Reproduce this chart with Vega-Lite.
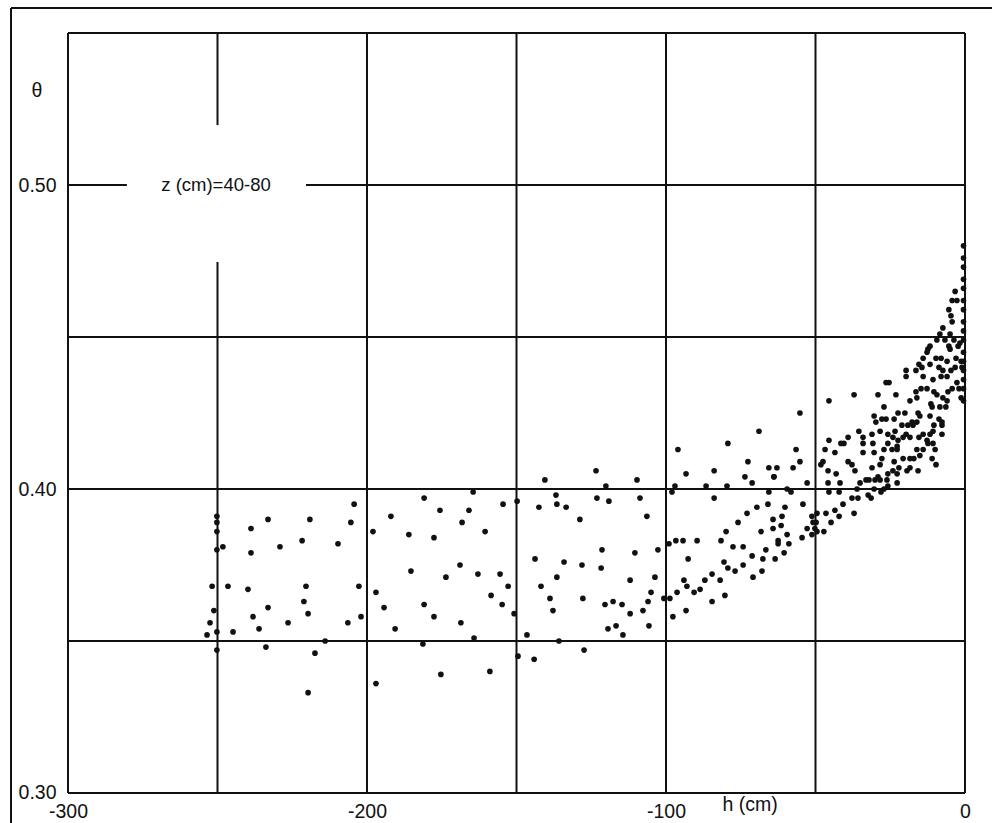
{
  "$schema": "https://vega.github.io/schema/vega-lite/v6.json",
  "width": 992,
  "height": 823,
  "autosize": "none",
  "padding": 0,
  "background": "white",
  "config": {
    "view": {"stroke": null},
    "font": "Liberation Sans",
    "axis": {"domain": false, "ticks": false, "grid": false, "labelColor": "#111", "labelFont": "Liberation Sans", "labelFontSize": 19.5}
  },
  "datasets": {
    "frame": [
      {"h1": -319.06, "h2": -319.06, "t1": 0.29013, "t2": 0.55822},
      {"h1": -319.06, "h2": 9.03, "t1": 0.55822, "t2": 0.55822}
    ],
    "grid": [
      {"h1": -300, "h2": -300, "t1": 0.30, "t2": 0.55},
      {"h1": -250, "h2": -250, "t1": 0.30, "t2": 0.4747},
      {"h1": -250, "h2": -250, "t1": 0.5197, "t2": 0.55},
      {"h1": -200, "h2": -200, "t1": 0.30, "t2": 0.55},
      {"h1": -150, "h2": -150, "t1": 0.30, "t2": 0.55},
      {"h1": -100, "h2": -100, "t1": 0.30, "t2": 0.55},
      {"h1": -50, "h2": -50, "t1": 0.30, "t2": 0.55},
      {"h1": 0, "h2": 0, "t1": 0.30, "t2": 0.55},
      {"h1": -300, "h2": 0, "t1": 0.30, "t2": 0.30},
      {"h1": -300, "h2": 0, "t1": 0.35, "t2": 0.35},
      {"h1": -300, "h2": 0, "t1": 0.40, "t2": 0.40},
      {"h1": -300, "h2": 0, "t1": 0.45, "t2": 0.45},
      {"h1": -300, "h2": -280.3, "t1": 0.50, "t2": 0.50},
      {"h1": -220.4, "h2": 0, "t1": 0.50, "t2": 0.50},
      {"h1": -300, "h2": 0, "t1": 0.55, "t2": 0.55}
    ],
    "labels": [
      {"h": -250.5, "theta": 0.5, "text": "z (cm)=40-80", "kind": "note"},
      {"h": -310.4, "theta": 0.5309, "text": "θ", "kind": "axis"},
      {"h": -71.9, "theta": 0.2960, "text": "h (cm)", "kind": "axis"}
    ],
    "obs": [
      {"h": -250.2, "theta": 0.391}, {"h": -250.2, "theta": 0.389}, {"h": -250.2, "theta": 0.386}, {"h": -250.2, "theta": 0.380},
      {"h": -248.2, "theta": 0.381}, {"h": -238.8, "theta": 0.387}, {"h": -233.1, "theta": 0.390}, {"h": -238.8, "theta": 0.379},
      {"h": -229.1, "theta": 0.381}, {"h": -219.1, "theta": 0.390}, {"h": -221.7, "theta": 0.383}, {"h": -209.7, "theta": 0.382},
      {"h": -204.3, "theta": 0.395}, {"h": -205.4, "theta": 0.389}, {"h": -251.8, "theta": 0.368}, {"h": -246.5, "theta": 0.368},
      {"h": -239.8, "theta": 0.367}, {"h": -220.4, "theta": 0.368}, {"h": -221.1, "theta": 0.363}, {"h": -202.7, "theta": 0.368},
      {"h": -251.2, "theta": 0.360}, {"h": -233.1, "theta": 0.361}, {"h": -219.7, "theta": 0.359}, {"h": -238.1, "theta": 0.358},
      {"h": -202.0, "theta": 0.358}, {"h": -252.5, "theta": 0.356}, {"h": -226.4, "theta": 0.356}, {"h": -206.4, "theta": 0.356},
      {"h": -253.5, "theta": 0.352}, {"h": -250.2, "theta": 0.353}, {"h": -244.8, "theta": 0.353}, {"h": -236.1, "theta": 0.354},
      {"h": -214.0, "theta": 0.350}, {"h": -250.2, "theta": 0.347}, {"h": -233.8, "theta": 0.348}, {"h": -217.4, "theta": 0.346},
      {"h": -219.7, "theta": 0.333}, {"h": -180.9, "theta": 0.397}, {"h": -164.5, "theta": 0.399}, {"h": -175.6, "theta": 0.393},
      {"h": -165.9, "theta": 0.393}, {"h": -192.0, "theta": 0.391}, {"h": -168.2, "theta": 0.389}, {"h": -160.5, "theta": 0.386},
      {"h": -198.0, "theta": 0.386}, {"h": -186.0, "theta": 0.385}, {"h": -177.6, "theta": 0.384}, {"h": -168.9, "theta": 0.375},
      {"h": -162.9, "theta": 0.372}, {"h": -185.3, "theta": 0.373}, {"h": -173.6, "theta": 0.371}, {"h": -197.0, "theta": 0.366},
      {"h": -180.9, "theta": 0.362}, {"h": -194.3, "theta": 0.361}, {"h": -177.6, "theta": 0.358}, {"h": -168.6, "theta": 0.356},
      {"h": -190.6, "theta": 0.354}, {"h": -164.2, "theta": 0.351}, {"h": -181.3, "theta": 0.349}, {"h": -175.3, "theta": 0.339},
      {"h": -158.9, "theta": 0.340}, {"h": -197.0, "theta": 0.336}, {"h": -158.5, "theta": 0.365},
      {"h": -79.3, "theta": 0.415}, {"h": -96.0, "theta": 0.413}, {"h": -93.3, "theta": 0.405}, {"h": -83.9, "theta": 0.406},
      {"h": -123.4, "theta": 0.406}, {"h": -140.5, "theta": 0.403}, {"h": -109.7, "theta": 0.403}, {"h": -120.1, "theta": 0.401},
      {"h": -86.6, "theta": 0.401}, {"h": -79.6, "theta": 0.401}, {"h": -97.0, "theta": 0.401}, {"h": -98.0, "theta": 0.399},
      {"h": -136.8, "theta": 0.398}, {"h": -123.1, "theta": 0.397}, {"h": -119.1, "theta": 0.396}, {"h": -108.7, "theta": 0.397},
      {"h": -83.9, "theta": 0.397}, {"h": -149.8, "theta": 0.396}, {"h": -154.5, "theta": 0.395}, {"h": -142.5, "theta": 0.394},
      {"h": -136.5, "theta": 0.395}, {"h": -133.4, "theta": 0.394}, {"h": -128.8, "theta": 0.390}, {"h": -106.4, "theta": 0.391},
      {"h": -75.9, "theta": 0.389}, {"h": -79.9, "theta": 0.386}, {"h": -81.6, "theta": 0.383}, {"h": -77.6, "theta": 0.381},
      {"h": -96.7, "theta": 0.383}, {"h": -94.3, "theta": 0.383}, {"h": -89.6, "theta": 0.383}, {"h": -99.0, "theta": 0.382},
      {"h": -121.4, "theta": 0.380}, {"h": -110.4, "theta": 0.379}, {"h": -102.7, "theta": 0.380}, {"h": -92.6, "theta": 0.377},
      {"h": -143.8, "theta": 0.377}, {"h": -134.1, "theta": 0.376}, {"h": -128.1, "theta": 0.375}, {"h": -121.7, "theta": 0.374},
      {"h": -80.6, "theta": 0.376}, {"h": -79.3, "theta": 0.374}, {"h": -76.9, "theta": 0.373}, {"h": -84.6, "theta": 0.372},
      {"h": -81.9, "theta": 0.370}, {"h": -87.0, "theta": 0.370}, {"h": -155.5, "theta": 0.372}, {"h": -103.7, "theta": 0.371},
      {"h": -136.5, "theta": 0.371}, {"h": -112.0, "theta": 0.370}, {"h": -94.0, "theta": 0.370}, {"h": -93.0, "theta": 0.368},
      {"h": -90.6, "theta": 0.366}, {"h": -88.6, "theta": 0.367}, {"h": -96.3, "theta": 0.366}, {"h": -152.8, "theta": 0.368},
      {"h": -141.8, "theta": 0.368}, {"h": -105.0, "theta": 0.366}, {"h": -80.3, "theta": 0.365}, {"h": -127.8, "theta": 0.364},
      {"h": -138.8, "theta": 0.364}, {"h": -100.7, "theta": 0.364}, {"h": -98.7, "theta": 0.364}, {"h": -84.6, "theta": 0.363},
      {"h": -154.8, "theta": 0.362}, {"h": -120.4, "theta": 0.362}, {"h": -117.7, "theta": 0.363}, {"h": -114.7, "theta": 0.362},
      {"h": -106.0, "theta": 0.363}, {"h": -107.7, "theta": 0.360}, {"h": -137.8, "theta": 0.360}, {"h": -112.0, "theta": 0.359},
      {"h": -93.3, "theta": 0.360}, {"h": -97.7, "theta": 0.358}, {"h": -150.8, "theta": 0.359}, {"h": -119.4, "theta": 0.354},
      {"h": -116.7, "theta": 0.355}, {"h": -105.7, "theta": 0.355}, {"h": -146.5, "theta": 0.352}, {"h": -114.4, "theta": 0.352},
      {"h": -135.8, "theta": 0.350}, {"h": -127.4, "theta": 0.347}, {"h": -149.5, "theta": 0.345}, {"h": -144.1, "theta": 0.344},
      {"h": -73.6, "theta": 0.404}, {"h": -71.2, "theta": 0.402}, {"h": -63.9, "theta": 0.404}, {"h": -65.6, "theta": 0.399},
      {"h": -69.6, "theta": 0.394}, {"h": -65.9, "theta": 0.395}, {"h": -72.9, "theta": 0.392}, {"h": -64.2, "theta": 0.390},
      {"h": -68.2, "theta": 0.386}, {"h": -64.2, "theta": 0.387}, {"h": -74.2, "theta": 0.381}, {"h": -62.5, "theta": 0.383},
      {"h": -66.6, "theta": 0.380}, {"h": -71.2, "theta": 0.378}, {"h": -67.6, "theta": 0.377}, {"h": -63.5, "theta": 0.377},
      {"h": -74.2, "theta": 0.375}, {"h": -67.9, "theta": 0.373}, {"h": -70.9, "theta": 0.371}, {"h": -72.6, "theta": 0.409},
      {"h": -68.9, "theta": 0.419},
      {"h": -55.2, "theta": 0.425}, {"h": -45.5, "theta": 0.429}, {"h": -37.1, "theta": 0.431}, {"h": -29.1, "theta": 0.431},
      {"h": -26.4, "theta": 0.435}, {"h": -25.4, "theta": 0.435}, {"h": -23.1, "theta": 0.431}, {"h": -27.1, "theta": 0.427},
      {"h": -22.4, "theta": 0.425}, {"h": -30.4, "theta": 0.424}, {"h": -29.8, "theta": 0.422}, {"h": -27.8, "theta": 0.423},
      {"h": -26.4, "theta": 0.423}, {"h": -23.7, "theta": 0.423}, {"h": -35.5, "theta": 0.419}, {"h": -31.1, "theta": 0.418},
      {"h": -28.4, "theta": 0.419}, {"h": -25.8, "theta": 0.418}, {"h": -24.1, "theta": 0.417}, {"h": -39.1, "theta": 0.417},
      {"h": -45.5, "theta": 0.416}, {"h": -41.5, "theta": 0.415}, {"h": -40.5, "theta": 0.415}, {"h": -34.1, "theta": 0.417},
      {"h": -34.1, "theta": 0.415}, {"h": -30.8, "theta": 0.415}, {"h": -25.8, "theta": 0.415}, {"h": -22.7, "theta": 0.414},
      {"h": -27.1, "theta": 0.413}, {"h": -24.4, "theta": 0.413}, {"h": -22.7, "theta": 0.413}, {"h": -56.5, "theta": 0.413},
      {"h": -46.8, "theta": 0.413}, {"h": -43.5, "theta": 0.412}, {"h": -34.1, "theta": 0.412}, {"h": -30.4, "theta": 0.412},
      {"h": -27.8, "theta": 0.410}, {"h": -23.7, "theta": 0.409}, {"h": -55.2, "theta": 0.409}, {"h": -48.2, "theta": 0.408},
      {"h": -47.5, "theta": 0.409}, {"h": -39.1, "theta": 0.409}, {"h": -37.8, "theta": 0.408}, {"h": -36.8, "theta": 0.406},
      {"h": -31.1, "theta": 0.407}, {"h": -28.4, "theta": 0.408}, {"h": -25.8, "theta": 0.405}, {"h": -24.1, "theta": 0.406},
      {"h": -65.6, "theta": 0.407}, {"h": -62.9, "theta": 0.407}, {"h": -57.5, "theta": 0.407}, {"h": -63.9, "theta": 0.404},
      {"h": -45.8, "theta": 0.406}, {"h": -43.1, "theta": 0.405}, {"h": -29.1, "theta": 0.404}, {"h": -22.7, "theta": 0.405},
      {"h": -52.8, "theta": 0.402}, {"h": -45.8, "theta": 0.402}, {"h": -41.8, "theta": 0.402}, {"h": -35.1, "theta": 0.402},
      {"h": -33.1, "theta": 0.403}, {"h": -32.1, "theta": 0.403}, {"h": -30.1, "theta": 0.403}, {"h": -28.4, "theta": 0.403},
      {"h": -26.1, "theta": 0.403}, {"h": -36.1, "theta": 0.400}, {"h": -30.4, "theta": 0.400}, {"h": -28.1, "theta": 0.399},
      {"h": -27.1, "theta": 0.400}, {"h": -25.8, "theta": 0.401}, {"h": -22.7, "theta": 0.402}, {"h": -59.5, "theta": 0.400},
      {"h": -58.2, "theta": 0.399}, {"h": -45.5, "theta": 0.399}, {"h": -42.1, "theta": 0.399}, {"h": -37.8, "theta": 0.397},
      {"h": -35.8, "theta": 0.397}, {"h": -32.4, "theta": 0.398}, {"h": -31.4, "theta": 0.397}, {"h": -60.2, "theta": 0.394},
      {"h": -54.2, "theta": 0.395}, {"h": -40.8, "theta": 0.395}, {"h": -43.5, "theta": 0.393}, {"h": -37.1, "theta": 0.392},
      {"h": -42.1, "theta": 0.391}, {"h": -51.2, "theta": 0.391}, {"h": -49.5, "theta": 0.392}, {"h": -46.5, "theta": 0.392},
      {"h": -61.2, "theta": 0.391}, {"h": -61.5, "theta": 0.388}, {"h": -50.8, "theta": 0.389}, {"h": -49.8, "theta": 0.389},
      {"h": -50.2, "theta": 0.387}, {"h": -49.5, "theta": 0.386}, {"h": -44.8, "theta": 0.389}, {"h": -47.2, "theta": 0.386},
      {"h": -52.8, "theta": 0.387}, {"h": -51.2, "theta": 0.385}, {"h": -59.5, "theta": 0.385}, {"h": -54.5, "theta": 0.384},
      {"h": -62.5, "theta": 0.382}, {"h": -58.9, "theta": 0.382}, {"h": -60.5, "theta": 0.379},
      {"h": -3.3, "theta": 0.465}, {"h": -4.3, "theta": 0.462}, {"h": -2.7, "theta": 0.462}, {"h": -5.4, "theta": 0.459},
      {"h": -4.7, "theta": 0.457}, {"h": -4.3, "theta": 0.455}, {"h": -7.4, "theta": 0.453}, {"h": -5.0, "theta": 0.451},
      {"h": -8.4, "theta": 0.451}, {"h": -9.4, "theta": 0.449}, {"h": -6.7, "theta": 0.449}, {"h": -3.7, "theta": 0.449},
      {"h": -2.3, "theta": 0.447}, {"h": -11.7, "theta": 0.447}, {"h": -12.4, "theta": 0.446}, {"h": -12.7, "theta": 0.445},
      {"h": -5.4, "theta": 0.447}, {"h": -5.0, "theta": 0.446}, {"h": -1.7, "theta": 0.448}, {"h": -9.7, "theta": 0.443},
      {"h": -8.0, "theta": 0.443}, {"h": -14.0, "theta": 0.443}, {"h": -6.0, "theta": 0.442}, {"h": -3.0, "theta": 0.443},
      {"h": -1.3, "theta": 0.442}, {"h": -15.4, "theta": 0.441}, {"h": -14.4, "theta": 0.440}, {"h": -11.7, "theta": 0.441},
      {"h": -19.7, "theta": 0.439}, {"h": -16.4, "theta": 0.439}, {"h": -19.7, "theta": 0.437}, {"h": -14.0, "theta": 0.437},
      {"h": -8.7, "theta": 0.440}, {"h": -7.4, "theta": 0.439}, {"h": -4.7, "theta": 0.439}, {"h": -3.3, "theta": 0.440},
      {"h": -1.0, "theta": 0.440}, {"h": -10.7, "theta": 0.436}, {"h": -8.0, "theta": 0.437}, {"h": -6.0, "theta": 0.437},
      {"h": -2.7, "theta": 0.435}, {"h": -16.4, "theta": 0.432}, {"h": -14.7, "theta": 0.433}, {"h": -12.7, "theta": 0.433},
      {"h": -10.4, "theta": 0.432}, {"h": -9.4, "theta": 0.431}, {"h": -5.7, "theta": 0.432}, {"h": -4.3, "theta": 0.433},
      {"h": -2.0, "theta": 0.433}, {"h": -1.3, "theta": 0.430}, {"h": -18.4, "theta": 0.429}, {"h": -16.1, "theta": 0.430},
      {"h": -7.4, "theta": 0.430}, {"h": -6.0, "theta": 0.429}, {"h": -11.4, "theta": 0.428}, {"h": -11.0, "theta": 0.427},
      {"h": -8.4, "theta": 0.427}, {"h": -20.1, "theta": 0.425}, {"h": -15.7, "theta": 0.425}, {"h": -15.1, "theta": 0.424},
      {"h": -11.7, "theta": 0.424}, {"h": -6.4, "theta": 0.427}, {"h": -17.7, "theta": 0.422}, {"h": -16.1, "theta": 0.422},
      {"h": -7.7, "theta": 0.422}, {"h": -8.7, "theta": 0.423}, {"h": -21.1, "theta": 0.421}, {"h": -19.1, "theta": 0.421},
      {"h": -17.4, "theta": 0.421}, {"h": -7.7, "theta": 0.421}, {"h": -10.4, "theta": 0.421}, {"h": -10.7, "theta": 0.419},
      {"h": -11.7, "theta": 0.418}, {"h": -23.4, "theta": 0.419}, {"h": -20.7, "theta": 0.417}, {"h": -19.7, "theta": 0.418},
      {"h": -15.4, "theta": 0.417}, {"h": -14.0, "theta": 0.418}, {"h": -7.7, "theta": 0.418}, {"h": -22.4, "theta": 0.416},
      {"h": -18.4, "theta": 0.417}, {"h": -12.7, "theta": 0.416}, {"h": -12.4, "theta": 0.415}, {"h": -10.7, "theta": 0.415},
      {"h": -16.1, "theta": 0.413}, {"h": -15.1, "theta": 0.411}, {"h": -14.0, "theta": 0.413}, {"h": -10.0, "theta": 0.413},
      {"h": -20.7, "theta": 0.410}, {"h": -18.4, "theta": 0.410}, {"h": -17.1, "theta": 0.410}, {"h": -11.0, "theta": 0.410},
      {"h": -9.7, "theta": 0.408}, {"h": -22.1, "theta": 0.407}, {"h": -19.4, "theta": 0.406}, {"h": -18.4, "theta": 0.407},
      {"h": -15.7, "theta": 0.406},
      {"h": -0.5, "theta": 0.480}, {"h": -0.5, "theta": 0.476}, {"h": -0.5, "theta": 0.473}, {"h": -0.5, "theta": 0.469},
      {"h": -0.5, "theta": 0.466}, {"h": -0.5, "theta": 0.462}, {"h": -0.5, "theta": 0.459}, {"h": -0.5, "theta": 0.455},
      {"h": -0.5, "theta": 0.452}, {"h": -0.5, "theta": 0.449}, {"h": -0.5, "theta": 0.445}, {"h": -0.5, "theta": 0.442},
      {"h": -0.5, "theta": 0.439}, {"h": -0.5, "theta": 0.436}, {"h": -0.5, "theta": 0.433}, {"h": -0.5, "theta": 0.429}
    ]
  },
  "layer": [
    {
      "data": {"name": "frame"},
      "mark": {"type": "rule", "color": "#111", "strokeWidth": 2},
      "encoding": {
        "x": {
          "field": "h1", "type": "quantitative",
          "scale": {"domain": [-322.74, 9.03], "nice": false, "zero": false},
          "axis": {"title": null, "orient": "bottom", "offset": -30, "values": [-300, -200, -100, 0], "labelExpr": "datum.value < 0 ? '-' + abs(datum.value) : '' + datum.value", "labelPadding": 9, "labelFlush": false, "labelOverlap": false, "labelBound": false}
        },
        "x2": {"field": "h2"},
        "y": {
          "field": "t1", "type": "quantitative",
          "scale": {"domain": [0.29013, 0.56086], "nice": false, "zero": false},
          "axis": {"title": null, "orient": "left", "offset": -68, "values": [0.3, 0.4, 0.5], "format": ".2f", "labelPadding": 12, "labelOverlap": false, "labelBound": false}
        },
        "y2": {"field": "t2"}
      }
    },
    {
      "data": {"name": "grid"},
      "mark": {"type": "rule", "color": "#111", "strokeWidth": 2},
      "encoding": {
        "x": {"field": "h1", "type": "quantitative", "scale": {"domain": [-322.74, 9.03], "nice": false, "zero": false}},
        "x2": {"field": "h2"},
        "y": {"field": "t1", "type": "quantitative", "scale": {"domain": [0.29013, 0.56086], "nice": false, "zero": false}},
        "y2": {"field": "t2"}
      }
    },
    {
      "data": {"name": "obs"},
      "mark": {"type": "point", "shape": "circle", "filled": true, "color": "#111", "opacity": 1, "size": 32},
      "encoding": {
        "x": {"field": "h", "type": "quantitative", "scale": {"domain": [-322.74, 9.03], "nice": false, "zero": false}},
        "y": {"field": "theta", "type": "quantitative", "scale": {"domain": [0.29013, 0.56086], "nice": false, "zero": false}}
      }
    },
    {
      "data": {"name": "labels"},
      "mark": {"type": "text", "font": "Liberation Sans", "color": "#111", "align": "center", "baseline": "middle"},
      "encoding": {
        "x": {"field": "h", "type": "quantitative", "scale": {"domain": [-322.74, 9.03], "nice": false, "zero": false}},
        "y": {"field": "theta", "type": "quantitative", "scale": {"domain": [0.29013, 0.56086], "nice": false, "zero": false}},
        "text": {"field": "text"},
        "size": {"condition": {"test": "datum.kind === 'note'", "value": 18.5}, "value": 19.5}
      }
    }
  ]
}
